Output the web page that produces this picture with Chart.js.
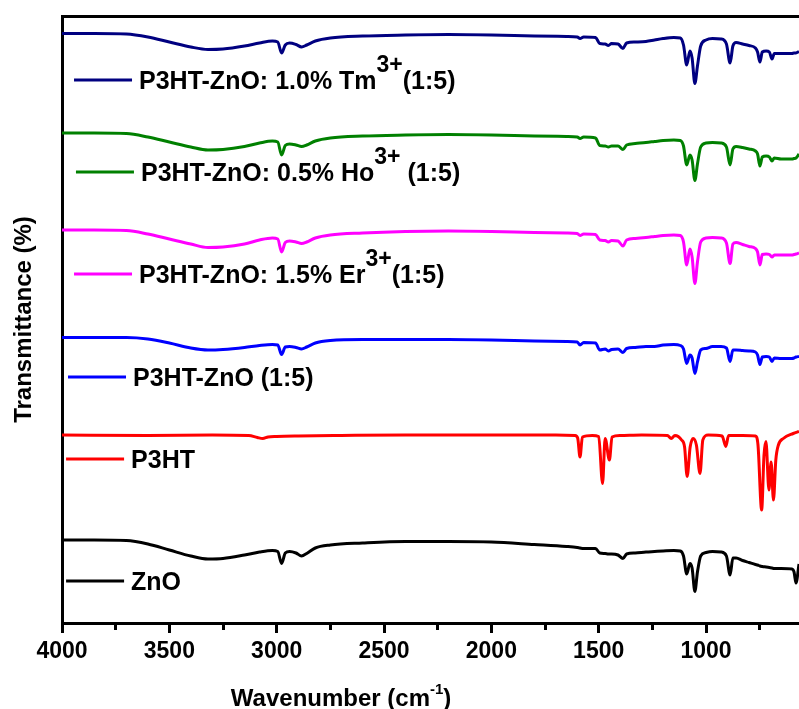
<!DOCTYPE html>
<html>
<head>
<meta charset="utf-8">
<title>FTIR spectra</title>
<script src="https://cdn.jsdelivr.net/npm/chart.js@4.4.1/dist/chart.umd.min.js"></script>
<style>
  html, body { margin: 0; padding: 0; background: #fff; }
  #wrap { width: 799px; height: 709px; }
</style>
</head>
<body>
<div id="wrap"><canvas id="ftir" width="799" height="709"></canvas></div>
<script>
// wavenumbers (cm-1) shared by the ZnO based samples
const wnZnO = [4000, 3850, 3700, 3600, 3500, 3400, 3320, 3250, 3150, 3080,
  3020, 2995, 2977, 2960, 2940, 2910, 2884, 2860, 2820, 2750,
  2600, 2400, 2200, 2000, 1800, 1650, 1600, 1587, 1570, 1515,
  1495, 1470, 1455, 1440, 1410, 1387, 1370, 1330, 1280, 1240,
  1200, 1150, 1120, 1105, 1090, 1075, 1065, 1052, 1040, 1025,
  1000, 970, 930, 905, 888, 875, 860, 830, 800, 770,
  760, 749, 738, 720, 705, 693, 682, 650, 600, 590,
  581, 567];

// transmittance, arbitrary units (curves are stacked with an offset)
const tTm = [589.5, 589.5, 589, 586, 581, 576, 573.5, 574, 577, 580,
  582, 581, 570, 578, 580, 578.5, 576, 578, 582, 585,
  587, 588, 588.5, 588, 587, 586.5, 586, 584.5, 586, 585.5,
  579.5, 579, 577.5, 579.5, 579, 574.5, 580, 581, 581.5, 583,
  584.5, 585.5, 585, 578, 558, 572, 565, 539.5, 557, 577,
  583, 584.5, 584, 579, 560, 577, 580.5, 579, 577.5, 575,
  571, 561, 571, 572, 571, 564, 569.5, 569.5, 569.5, 570,
  570, 571.5];

const tHo = [490, 490, 489.5, 486, 481, 476, 473, 473.5, 476.5, 480,
  482, 481, 468, 477.5, 479, 478, 476.5, 478, 482, 485,
  487, 488, 488.5, 488, 487, 486.5, 486, 484.5, 486, 485,
  477.5, 477, 476, 477, 477, 473.5, 478, 479.5, 480.5, 481.5,
  482.5, 483, 482.5, 477, 458, 468, 463, 442.5, 459, 476,
  480, 480.5, 480, 476, 458, 474, 476.5, 475.5, 474, 472,
  469, 457, 466, 467, 466, 462, 465, 464, 464, 464.5,
  465, 469];

const tEr = [393, 393, 392.5, 389, 384, 379, 375.5, 376, 379, 383,
  385, 384, 371, 380.5, 382, 381, 379.5, 381, 385, 388,
  390, 391.5, 392, 391.5, 390.5, 390, 389.5, 387.5, 389, 388.5,
  383, 382.5, 381, 382.5, 382, 377, 383, 384.5, 385.5, 386.5,
  387.5, 388, 387.5, 381, 358, 374, 366, 339.5, 361, 381,
  385, 385.5, 385, 380, 359.5, 379, 380.5, 378.5, 376.5, 374.5,
  371, 358, 368.5, 369, 368.5, 366, 368, 368, 368, 368.5,
  369, 370];

const tP3htZnO = [285.5, 285.5, 285.5, 284, 280, 275, 273, 273.5, 275.5, 277.5,
  278.5, 278, 268.5, 276, 276.5, 275.5, 274, 276, 280, 282.5,
  283.5, 283.5, 283.5, 283, 282, 281.5, 281, 278, 280.5, 280,
  273, 274, 272, 273.5, 274, 270.5, 274.5, 275.5, 276.5, 276.5,
  278, 278.5, 277.5, 274, 259.5, 268, 265, 249.5, 261, 273,
  274.5, 276.5, 276.5, 275, 261.5, 273, 273, 272.5, 272, 271,
  268, 258.5, 266, 266.5, 266, 261.5, 265, 264.5, 264.5, 265,
  266, 266.5];

const tZnO = [83, 83, 82.5, 79, 73, 67, 64, 64.5, 68, 71,
  72.5, 71.5, 59.5, 70, 71.5, 70, 67, 69.5, 75, 78,
  80, 81.5, 81.5, 81, 78.5, 76.5, 75.5, 75, 74.5, 74.5,
  70, 69.5, 69, 69, 68, 64.5, 69, 70, 71, 71.5,
  72, 72.5, 72, 67, 49, 59.5, 55, 31.5, 51, 67,
  70.5, 71.5, 71, 67, 48, 65, 65, 62.5, 60.5, 58.5,
  58, 57, 56.5, 56, 55.5, 55, 54.5, 54.5, 54, 51,
  40, 59];

// P3HT has its own grid, the peaks are much sharper
const wnP3HT = [4000, 3600, 3300, 3130, 3090, 3065, 3040, 3000, 2900, 2700,
  2400, 2000, 1700, 1610, 1598, 1587, 1576, 1530, 1500, 1482,
  1470, 1450, 1438, 1400, 1300, 1180, 1162, 1145, 1114, 1100,
  1088, 1074, 1060, 1045, 1028, 1015, 990, 925, 908, 895,
  830, 770, 758, 741, 730, 721, 707, 697, 686, 675,
  663, 640, 594, 567];
const tP3HT = [188, 187.5, 188, 187.5, 185.5, 184.5, 186, 186.5, 187, 187.5,
  188, 188, 188, 187.5, 185, 166, 186, 187.5, 186.5, 139.5,
  184.5, 163, 186, 187.5, 188, 187.5, 184.5, 187.5, 183, 176,
  146.5, 176, 184.5, 178, 149.5, 183, 188, 187, 176.5, 187.5,
  187.5, 187, 178, 113, 168, 181.5, 133, 161, 123, 163,
  178, 184.5, 189.5, 191.5];

const xTicksMajor = [4000, 3500, 3000, 2500, 2000, 1500, 1000];
const xTicksMinor = [3750, 3250, 2750, 2250, 1750, 1250, 750];
const wnMin = 567, wnMax = 4000;

const FONT = 'Arial, "Liberation Sans", sans-serif';

function punten(wn, t) {
  return wn.map((w, i) => ({ x: w, y: t[i] }));
}

// labels sit inside the plot, next to each curve
const spectra = [
  { label: 'P3HT-ZnO: 1.0% Tm^{3+}(1:5)', wn: wnZnO, t: tTm, color: '#000080', legendAt: [3944, 543] },
  { label: 'P3HT-ZnO: 0.5% Ho^{3+} (1:5)', wn: wnZnO, t: tHo, color: '#008000', legendAt: [3935, 451] },
  { label: 'P3HT-ZnO: 1.5% Er^{3+}(1:5)', wn: wnZnO, t: tEr, color: '#ff00ff', legendAt: [3944, 349] },
  { label: 'P3HT-ZnO (1:5)', wn: wnZnO, t: tP3htZnO, color: '#0000ff', legendAt: [3972, 246] },
  { label: 'P3HT', wn: wnP3HT, t: tP3HT, color: '#ff0000', legendAt: [3981, 164] },
  { label: 'ZnO', wn: wnZnO, t: tZnO, color: '#000000', legendAt: [3981, 42] }
];

// text with ^{...} parts written as superscript, returns the end x
function tekstMetSup(ctx, tekst, x, y, size, supSize, rise, dryRun) {
  let tx = x;
  tekst.split(/(\^\{[^}]*\})/).forEach(part => {
    if (!part) return;
    const sup = part.startsWith('^{');
    const s = sup ? part.slice(2, -1) : part;
    ctx.font = 'bold ' + (sup ? supSize : size) + 'px ' + FONT;
    if (!dryRun) ctx.fillText(s, tx, sup ? y - rise : y);
    tx += ctx.measureText(s).width;
  });
  return tx;
}

const inlineLegend = {
  id: 'inlineLegend',
  afterDatasetsDraw(chart) {
    const ctx = chart.ctx;
    const xs = chart.scales.x, ys = chart.scales.y;
    chart.data.datasets.forEach(ds => {
      const x = xs.getPixelForValue(ds.legendAt[0]);
      const y = ys.getPixelForValue(ds.legendAt[1]);
      ctx.save();
      ctx.strokeStyle = ds.borderColor;
      ctx.lineWidth = 3;
      ctx.beginPath();
      ctx.moveTo(x, y);
      ctx.lineTo(x + 58, y);
      ctx.stroke();
      ctx.fillStyle = '#000';
      ctx.textBaseline = 'alphabetic';
      tekstMetSup(ctx, ds.label, x + 65, y + 9, 25, 23, 17);
      ctx.restore();
    });
  }
};

// x title drawn by hand so the cm-1 gets a real superscript
const xTitel = {
  id: 'xTitel',
  afterDraw(chart) {
    const ctx = chart.ctx;
    const tekst = 'Wavenumber (cm^{-1})';
    const midden = chart.scales.x.getPixelForValue(2700);
    ctx.save();
    ctx.fillStyle = '#000';
    ctx.textBaseline = 'alphabetic';
    const breedte = tekstMetSup(ctx, tekst, 0, 0, 24, 15, 12, true);
    tekstMetSup(ctx, tekst, midden - breedte / 2, 706, 24, 15, 12);
    ctx.restore();
  }
};

const ctx = document.getElementById('ftir').getContext('2d');
new Chart(ctx, {
  type: 'line',
  data: {
    datasets: spectra.map(s => ({
      label: s.label,
      data: punten(s.wn, s.t),
      borderColor: s.color,
      backgroundColor: s.color,
      borderWidth: 3,
      pointRadius: 0,
      fill: false,
      cubicInterpolationMode: 'monotone',
      legendAt: s.legendAt
    }))
  },
  options: {
    responsive: false,
    animation: false,
    layout: { padding: { top: 16, left: 0, right: 0, bottom: 0 } },
    plugins: {
      legend: { display: false },
      tooltip: { enabled: false }
    },
    scales: {
      x: {
        type: 'linear',
        position: 'bottom',
        reverse: true,
        min: wnMin,
        max: wnMax,
        weight: 1,
        afterBuildTicks: s => { s.ticks = xTicksMajor.map(v => ({ value: v })); },
        border: { display: true, color: '#000', width: 3 },
        grid: { drawOnChartArea: false, drawTicks: true, tickLength: 10, tickWidth: 3, tickColor: '#000' },
        ticks: {
          autoSkip: false,
          maxRotation: 0,
          padding: 5,
          color: '#000',
          font: { family: FONT, size: 23, weight: 'bold' },
          callback: v => String(v)
        },
        afterFit: s => { s.height = 86; }
      },
      // minor ticks halfway between the labelled ones, a bit shorter
      xMinor: {
        type: 'linear',
        position: 'bottom',
        reverse: true,
        min: wnMin,
        max: wnMax,
        weight: 0,
        afterBuildTicks: s => { s.ticks = xTicksMinor.map(v => ({ value: v })); },
        border: { display: false },
        grid: { drawOnChartArea: false, drawTicks: true, tickLength: 7, tickWidth: 3, tickColor: '#000' },
        ticks: { display: false, autoSkip: false },
        afterFit: s => { s.height = 0; }
      },
      xTop: {
        type: 'linear',
        position: 'top',
        reverse: true,
        min: wnMin,
        max: wnMax,
        border: { display: true, color: '#000', width: 3 },
        grid: { display: false },
        ticks: { display: false },
        afterFit: s => { s.height = 0; }
      },
      y: {
        type: 'linear',
        min: 0,
        max: 607,
        border: { display: true, color: '#000', width: 3 },
        grid: { display: false },
        ticks: { display: false },
        title: {
          display: true,
          text: 'Transmittance (%)',
          color: '#000',
          font: { family: FONT, size: 24, weight: 'bold', lineHeight: 1 },
          padding: { top: 12, bottom: 0 }
        },
        afterFit: s => { s.width = 62; }
      }
    }
  },
  plugins: [inlineLegend, xTitel]
});
</script>
</body>
</html>
